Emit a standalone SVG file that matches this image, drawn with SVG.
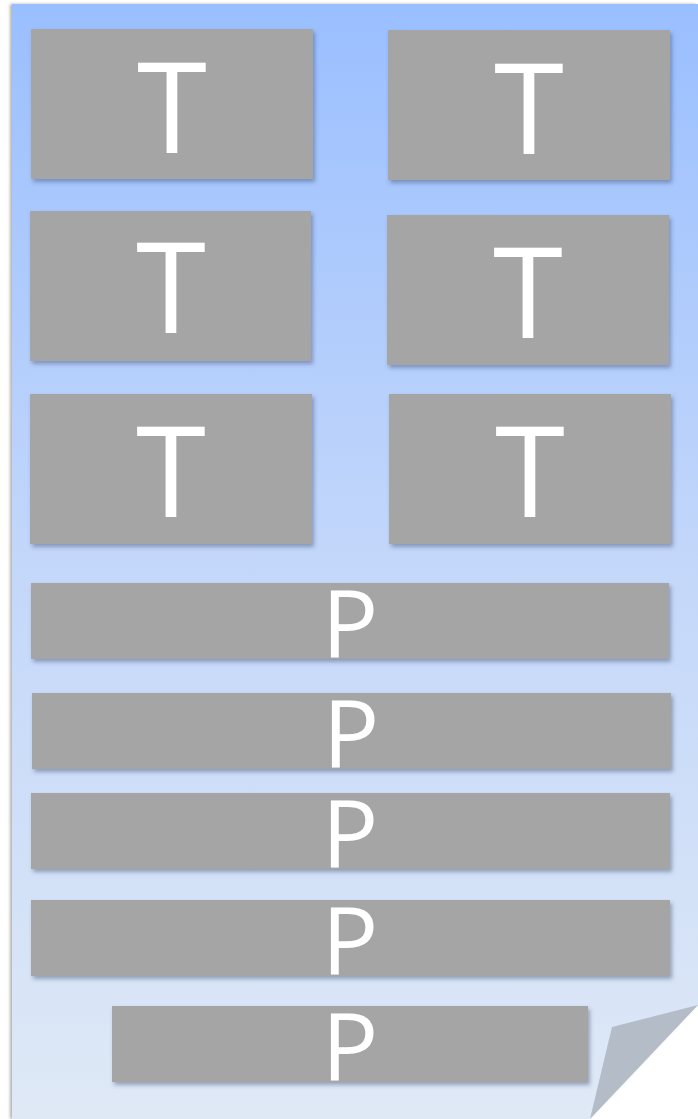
<svg xmlns="http://www.w3.org/2000/svg" width="698" height="1119" viewBox="0 0 698 1119">
<defs>
<linearGradient id="pg" x1="0" y1="0" x2="0" y2="1">
<stop offset="0" stop-color="#9abfff"/>
<stop offset="0.5" stop-color="#c3d7fa"/>
<stop offset="1" stop-color="#dfe9f6"/>
</linearGradient>
<filter id="sh" x="-10%" y="-10%" width="130%" height="140%">
<feDropShadow dx="2" dy="3" stdDeviation="2" flood-color="#3a4a70" flood-opacity="0.45"/>
</filter>
<filter id="psh" x="-5%" y="-5%" width="110%" height="110%">
<feDropShadow dx="-2" dy="0" stdDeviation="1.5" flood-color="#000" flood-opacity="0.3"/>
</filter>
</defs>
<style>
.box{fill:#a5a5a5;filter:url(#sh)}
.t{font-family:"Open Sans","DejaVu Sans",sans-serif;fill:#fff;text-anchor:middle}
.tl{font-size:127px}
.pl{font-size:94px}
</style>
<rect width="698" height="1119" fill="#fff"/>
<g id="page">
<polygon points="12,4 698,4 698,1005 590,1119 12,1119" fill="url(#pg)" filter="url(#psh)"/>
<polygon points="698,1005 612,1027 590,1119" fill="#b4bcc8"/>
</g>
<g id="connectors"/>
<g id="t1"><rect class="box" x="31" y="29" width="282" height="150"/><text class="t tl" x="172" y="153">T</text></g>
<g id="t2"><rect class="box" x="388" y="30" width="282" height="150"/><text class="t tl" x="529" y="154">T</text></g>
<g id="t3"><rect class="box" x="30" y="211" width="281" height="150"/><text class="t tl" x="171" y="333">T</text></g>
<g id="t4"><rect class="box" x="387" y="215" width="282" height="150"/><text class="t tl" x="528" y="338">T</text></g>
<g id="t5"><rect class="box" x="30" y="394" width="282" height="150"/><text class="t tl" x="171" y="517">T</text></g>
<g id="t6"><rect class="box" x="389" y="394" width="282" height="150"/><text class="t tl" x="530" y="517">T</text></g>
<g id="p1"><rect class="box" x="31" y="583" width="638" height="76"/><text class="t pl" x="350" y="657">P</text></g>
<g id="p2"><rect class="box" x="32" y="693" width="639" height="76"/><text class="t pl" x="351" y="767">P</text></g>
<g id="p3"><rect class="box" x="31" y="793" width="639" height="76"/><text class="t pl" x="350" y="867">P</text></g>
<g id="p4"><rect class="box" x="31" y="900" width="639" height="76"/><text class="t pl" x="350" y="974">P</text></g>
<g id="p5"><rect class="box" x="112" y="1006" width="476" height="76"/><text class="t pl" x="350" y="1080">P</text></g>
</svg>
